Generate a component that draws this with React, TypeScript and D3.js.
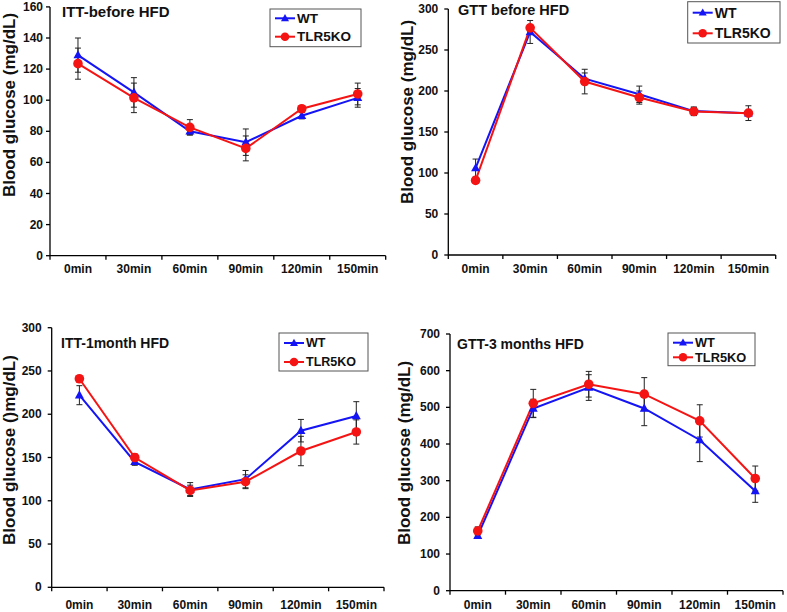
import React from "react";
import * as d3 from "d3";

const times = ["0min", "30min", "60min", "90min", "120min", "150min"];
const seriesNames = ["WT", "TLR5KO"];

const ittBeforeWT = [129, 105, 80, 73, 90, 101.5];
const ittBeforeWTErr = [11, 9.5, 2, 8.5, 2, 6];
const ittBeforeKO = [123.5, 101.5, 82.5, 69, 94.5, 104];
const ittBeforeKOErr = [10, 9.5, 5, 8, 2, 7];

const gttBeforeWT = [106, 272, 215, 196, 175.5, 173];
const gttBeforeWTErr = [11, 14, 7, 10, 5, 9];
const gttBeforeKO = [91, 277, 211.5, 192, 175, 173];
const gttBeforeKOErr = [3, 4, 15, 8, 5, 3];

const itt1mWT = [222, 145, 113, 125, 181, 198];
const itt1mWTErr = [11, 4, 8, 10, 13, 16.5];
const itt1mKO = [241, 150, 112, 122, 157.5, 179.5];
const itt1mKOErr = [3, 4, 6, 8, 17, 14];

const gtt3mWT = [150, 497, 554, 497, 411, 272];
const gtt3mWTErr = [5, 25, 35, 47, 59, 31];
const gtt3mKO = [163, 511, 563, 536, 463, 306];
const gtt3mKOErr = [11, 38, 35, 45, 44, 34];

const BLUE = "#1414f5";
const RED = "#f51414";
const FONT = "Liberation Sans, Arial, sans-serif";

type PanelCfg = {
  title: string;
  titleX: number;
  titleY: number;
  titleSize: number;
  yLabel: string;
  yLabelX: number;
  yLabelY: number;
  x0: number;
  x1: number;
  yTop: number;
  yBottom: number;
  yMax: number;
  yStep: number;
  tickLabelGap: number;
  xLabelOffset: number;
  legend: { x0: number; x1: number; y0: number; y1: number; r1: number; r2: number; size: number };
  wt: number[];
  wtErr: number[];
  ko: number[];
  koErr: number[];
};

const panels: PanelCfg[] = [
  {
    title: "ITT-before HFD", titleX: 62, titleY: 16.5, titleSize: 15,
    yLabel: "Blood glucose (mg/dL)", yLabelX: 9, yLabelY: 105,
    x0: 50, x1: 385.7, yTop: 6.9, yBottom: 255.7, yMax: 160, yStep: 20,
    tickLabelGap: 7, xLabelOffset: 13.5,
    legend: { x0: 270, x1: 361, y0: 9, y1: 46.7, r1: 18.3, r2: 36.7, size: 13.5 },
    wt: ittBeforeWT, wtErr: ittBeforeWTErr, ko: ittBeforeKO, koErr: ittBeforeKOErr,
  },
  {
    title: "GTT before HFD", titleX: 458, titleY: 15, titleSize: 14.5,
    yLabel: "Blood glucose (mg/dL)", yLabelX: 407, yLabelY: 112,
    x0: 448.3, x1: 775.7, yTop: 9, yBottom: 255, yMax: 300, yStep: 50,
    tickLabelGap: 10, xLabelOffset: 14,
    legend: { x0: 687.7, x1: 780, y0: 1.7, y1: 43, r1: 12.7, r2: 33.3, size: 14 },
    wt: gttBeforeWT, wtErr: gttBeforeWTErr, ko: gttBeforeKO, koErr: gttBeforeKOErr,
  },
  {
    title: "ITT-1month HFD", titleX: 61, titleY: 348, titleSize: 14,
    yLabel: "Blood glucose ()mg/dL)", yLabelX: 9, yLabelY: 450,
    x0: 51.7, x1: 384, yTop: 327.7, yBottom: 587.3, yMax: 300, yStep: 50,
    tickLabelGap: 10, xLabelOffset: 17.7,
    legend: { x0: 279, x1: 368, y0: 333, y1: 371, r1: 343, r2: 362, size: 12.5 },
    wt: itt1mWT, wtErr: itt1mWTErr, ko: itt1mKO, koErr: itt1mKOErr,
  },
  {
    title: "GTT-3 months HFD", titleX: 457, titleY: 349, titleSize: 14,
    yLabel: "Blood glucose (mg/dL)", yLabelX: 404, yLabelY: 453,
    x0: 450, x1: 783, yTop: 334, yBottom: 590.7, yMax: 700, yStep: 100,
    tickLabelGap: 10, xLabelOffset: 14.3,
    legend: { x0: 668, x1: 755, y0: 333, y1: 365.7, r1: 342.7, r2: 357.3, size: 12.8 },
    wt: gtt3mWT, wtErr: gtt3mWTErr, ko: gtt3mKO, koErr: gtt3mKOErr,
  },
];

function triPath(cx: number, cy: number, s: number) {
  const h = s * 0.9;
  return `M${cx},${cy - h * 0.6} L${cx + s / 2},${cy + h * 0.4} L${cx - s / 2},${cy + h * 0.4} Z`;
}

function Panel({ p }: { p: PanelCfg }) {
  const x = d3.scaleBand<string>().domain(times).range([p.x0, p.x1]).padding(0);
  const y = d3.scaleLinear().domain([0, p.yMax]).range([p.yBottom, p.yTop]);
  const yTicks = d3.range(0, p.yMax + 0.001, p.yStep);
  const cx = (t: string) => (x(t) as number) + x.bandwidth() / 2;
  const line = d3
    .line<number>()
    .x((_, i) => cx(times[i]))
    .y((v) => y(v));
  const bounds = [...times.map((t) => x(t) as number), p.x1];

  const errBars = (vals: number[], errs: number[], key: string) =>
    vals.map((v, i) => {
      const X = cx(times[i]);
      const hi = y(v + errs[i]);
      const lo = y(v - errs[i]);
      return (
        <g key={key + i} stroke="#222" strokeWidth={1}>
          <line x1={X} x2={X} y1={hi} y2={lo} />
          <line x1={X - 3} x2={X + 3} y1={hi} y2={hi} />
          <line x1={X - 3} x2={X + 3} y1={lo} y2={lo} />
        </g>
      );
    });

  const L = p.legend;
  const lx0 = L.x0 + 5;
  const lx1 = L.x0 + 25;
  const lm = (lx0 + lx1) / 2;

  return (
    <g fontFamily={FONT}>
      <line x1={p.x0} x2={p.x0} y1={p.yTop} y2={p.yBottom} stroke="#000" strokeWidth={1.3} />
      <line x1={p.x0} x2={p.x1} y1={p.yBottom} y2={p.yBottom} stroke="#000" strokeWidth={1.3} />
      {yTicks.map((t) => (
        <g key={"yt" + t}>
          <line x1={p.x0 - 4} x2={p.x0} y1={y(t)} y2={y(t)} stroke="#000" strokeWidth={1.3} />
          <text
            x={p.x0 - p.tickLabelGap}
            y={y(t)}
            textAnchor="end"
            dominantBaseline="central"
            fontSize={12}
            fontWeight="bold"
            fill="#111"
          >
            {t}
          </text>
        </g>
      ))}
      {bounds.map((b, i) => (
        <line key={"xt" + i} x1={b} x2={b} y1={p.yBottom} y2={p.yBottom + 4} stroke="#000" strokeWidth={1.3} />
      ))}
      {times.map((t) => (
        <text
          key={"xl" + t}
          x={cx(t)}
          y={p.yBottom + p.xLabelOffset}
          textAnchor="middle"
          dominantBaseline="central"
          fontSize={12}
          fontWeight="bold"
          fill="#111"
        >
          {t}
        </text>
      ))}
      <text
        transform={`translate(${p.yLabelX},${p.yLabelY}) rotate(-90)`}
        textAnchor="middle"
        dominantBaseline="central"
        fontSize={17}
        fontWeight="bold"
        fill="#111"
      >
        {p.yLabel}
      </text>
      <text x={p.titleX} y={p.titleY} fontSize={p.titleSize} fontWeight="bold" fill="#111">
        {p.title}
      </text>

      {errBars(p.wt, p.wtErr, "ew")}
      {errBars(p.ko, p.koErr, "ek")}

      <path d={line(p.wt) || ""} fill="none" stroke={BLUE} strokeWidth={2} />
      <path d={line(p.ko) || ""} fill="none" stroke={RED} strokeWidth={2} />
      {p.wt.map((v, i) => (
        <path key={"mw" + i} d={triPath(cx(times[i]), y(v), 9)} fill={BLUE} />
      ))}
      {p.ko.map((v, i) => (
        <circle key={"mk" + i} cx={cx(times[i])} cy={y(v)} r={4.8} fill={RED} />
      ))}

      <rect x={L.x0} y={L.y0} width={L.x1 - L.x0} height={L.y1 - L.y0} fill="#fff" stroke="#555" strokeWidth={1} />
      <line x1={lx0} x2={lx1} y1={L.r1} y2={L.r1} stroke={BLUE} strokeWidth={2} />
      <path d={triPath(lm, L.r1, 8)} fill={BLUE} />
      <text x={lx1 + 2} y={L.r1} dominantBaseline="central" fontSize={L.size} fontWeight="bold" fill="#111">
        {seriesNames[0]}
      </text>
      <line x1={lx0} x2={lx1} y1={L.r2} y2={L.r2} stroke={RED} strokeWidth={2} />
      <circle cx={lm} cy={L.r2} r={4.3} fill={RED} />
      <text x={lx1 + 2} y={L.r2} dominantBaseline="central" fontSize={L.size} fontWeight="bold" fill="#111">
        {seriesNames[1]}
      </text>
    </g>
  );
}

export default function App() {
  return (
    <svg
      width={787}
      height={612}
      style={{ position: "absolute", left: 0, top: 0, background: "#fff" }}
    >
      <rect x={0} y={0} width={787} height={612} fill="#fff" />
      {panels.map((p, i) => (
        <Panel key={i} p={p} />
      ))}
    </svg>
  );
}
